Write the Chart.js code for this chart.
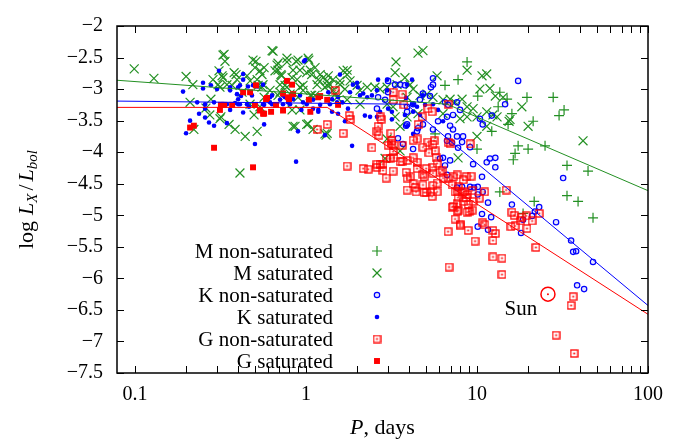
<!DOCTYPE html>
<html>
<head>
<meta charset="utf-8">
<script src="https://cdn.jsdelivr.net/npm/chart.js@4.4.0/dist/chart.umd.min.js"></script>
<style>
  html, body { margin: 0; padding: 0; background: #fff; }
</style>
</head>
<body>
<canvas id="chart" width="680" height="443"></canvas>
<script>
// Data points as [P in days, log Lx/Lbol]
const mNonSaturated = [
  [8.75,-2.57],[7.75,-2.85],[6.50,-2.94],[10.1,-3.11],[13.6,-3.05],[15.0,-3.16],[19.6,-3.13],[13.3,-3.28],
  [21.3,-3.51],[16.0,-3.39],[12.2,-3.67],[15.2,-3.56],[5.69,-3.71],[27.9,-3.13],[32.3,-3.33],[30.2,-3.42],
  [17.4,-3.90],[19.9,-3.95],[25.0,-3.90],[16.7,-4.02],[16.3,-4.12],[10.0,-3.95],[33.6,-4.21],[44.6,-4.30],
  [33.6,-4.69],[39.0,-4.78],[21.6,-4.78],[47.7,-5.04],[18.6,-4.97],[13.6,-4.63]
];
const mSaturated = [
  [0.099,-2.68],[0.129,-2.83],[0.199,-2.80],[0.218,-2.93],[0.21,-3.21],[0.221,-3.64],[0.26,-3.30],[0.278,-3.16],
  [0.286,-2.85],[0.31,-2.71],[0.314,-2.97],[0.332,-2.45],[0.336,-2.56],[0.327,-2.82],[0.345,-2.93],[0.318,-3.44],
  [0.38,-2.74],[0.39,-2.77],[0.355,-3.56],[0.385,-3.64],[0.441,-3.75],[0.51,-2.56],[0.503,-2.66],[0.538,-2.71],
  [0.569,-2.66],[0.518,-3.67],[0.497,-3.41],[0.471,-3.24],[0.538,-3.28],[0.569,-3.13],[0.553,-2.97],[0.471,-2.87],
  [0.423,-3.05],[0.411,-4.33],[0.633,-2.39],[0.677,-2.62],[0.774,-2.51],[0.84,-3.59],[1.01,-2.74],[1.01,-3.56],
  [1.33,-3.70],[1.74,-2.70],[0.642,-2.40],[0.686,-2.59],[0.659,-2.71],[0.714,-2.77],[0.774,-2.57],[0.875,-2.56],
  [0.84,-2.70],[0.829,-2.82],[1.04,-2.54],[1.06,-2.70],[1.08,-2.77],[1.18,-2.85],[1.26,-2.82],[1.33,-2.87],
  [1.38,-2.93],[1.29,-2.97],[0.961,-3.02],[0.922,-2.97],[0.774,-2.97],[0.705,-2.93],[0.561,-2.93],[0.616,-3.02],
  [0.686,-3.10],[0.807,-3.08],[0.898,-3.13],[1.06,-3.10],[1.13,-3.10],[1.44,-3.02],[1.65,-2.71],[1.58,-2.87],
  [1.81,-2.87],[1.99,-2.94],[2.07,-3.02],[2.28,-2.97],[2.53,-2.97],[2.71,-3.00],[2.98,-2.97],[3.32,-2.74],
  [3.36,-2.57],[3.41,-2.93],[3.90,-3.13],[3.32,-3.44],[3.55,-3.59],[2.98,-3.79],[1.29,-3.71],[1.03,-3.55],
  [0.863,-3.59],[2.07,-3.24],[1.74,-3.17],[1.52,-3.13],[2.98,-3.24],[3.23,-3.28],[4.52,-2.43],[4.83,-2.39],
  [8.75,-2.70],[10.7,-2.79],[11.4,-2.76],[10.4,-3.00],[11.9,-2.99],[12.8,-3.11],[14.2,-3.13],[18.3,-3.28],
  [19.9,-3.59],[15.6,-3.48],[5.84,-2.79],[3.79,-2.82],[4.06,-2.93],[4.23,-3.00],[4.64,-3.10],[5.10,-3.08],
  [5.53,-3.13],[6.33,-3.17],[6.96,-3.16],[7.44,-3.21],[8.18,-3.16],[8.75,-3.28],[9.49,-3.31],[10.0,-3.44],
  [8.75,-3.44],[7.96,-3.47],[11.4,-3.36],[13.1,-3.44],[11.4,-3.59],[10.0,-3.75],[3.90,-3.44],[4.52,-3.39],
  [6.33,-3.39],[7.75,-4.09],[41.7,-3.82],[15.4,-3.51],[12.4,-3.41],[1.10,-3.64],[1.31,-3.73],[2.90,-4.10],
  [3.55,-3.98],[0.327,-2.46],[0.323,-2.79],[0.306,-2.93],[0.395,-2.85],[0.37,-2.94],[0.452,-2.79],[0.49,-2.54],
  [0.553,-2.77],[0.518,-2.85],[0.525,-2.94],[0.686,-2.70],[0.72,-2.79],[0.754,-2.94],[0.705,-3.05],[0.898,-2.54],
  [0.922,-2.70],[0.887,-2.85],[0.961,-2.94],[1.03,-2.51],[1.13,-2.66],[1.21,-2.77],[1.16,-2.93],[1.08,-3.10],
  [1.35,-2.79],[1.33,-2.94],[1.44,-2.85],[1.58,-2.93],[1.69,-3.00],[0.274,-3.41],[0.314,-3.47],[1.74,-2.77],
  [1.48,-3.08],[0.829,-3.33],[0.922,-3.33]
];
const kNonSaturated = [
  [17.4,-2.87],[14.6,-3.24],[5.53,-2.83],[5.53,-2.93],[5.38,-2.97],[4.83,-3.07],[5.31,-3.11],[4.64,-3.17],
  [4.23,-3.24],[3.90,-3.28],[3.55,-2.93],[3.32,-2.93],[3.02,-2.87],[2.90,-3.17],[6.50,-3.21],[6.77,-3.25],
  [7.64,-3.21],[6.68,-3.44],[5.92,-3.51],[5.53,-3.64],[4.83,-3.56],[4.52,-3.62],[3.90,-3.56],[6.96,-3.58],
  [7.24,-3.64],[8.29,-3.75],[6.77,-3.75],[6.68,-3.82],[7.15,-3.85],[8.18,-3.84],[7.75,-3.93],[9.11,-3.92],
  [11.4,-4.16],[12.8,-4.09],[11.9,-4.10],[12.8,-4.24],[9.49,-4.19],[10.7,-4.39],[10.1,-4.55],[10.8,-4.63],
  [9.11,-4.55],[8.18,-4.55],[7.64,-4.56],[6.96,-4.13],[6.08,-4.10],[6.50,-4.21],[6.68,-4.36],[6.33,-4.09],
  [4.23,-3.95],[4.46,-3.67],[3.69,-3.87],[3.45,-3.78],[31.9,-4.41],[16.0,-4.83],[9.61,-4.56],[10.1,-4.67],
  [11.6,-4.80],[18.6,-5.07],[21.8,-4.94],[23.1,-4.87],[29.0,-5.11],[35.5,-5.40],[36.5,-5.58],[38.0,-5.57],
  [47.7,-5.74],[38.5,-6.11],[42.3,-6.17],[18.1,-5.28],[21.0,-5.01],[12.1,-5.03],[11.6,-5.23],[10.1,-5.18],
  [10.7,-4.98],[12.2,-3.42],[10.8,-3.56],[10.4,-3.47],[7.96,-3.33],[7.24,-3.41],[7.64,-3.75],[2.64,-3.13],
  [3.02,-3.05],[3.79,-2.94],[3.90,-3.36],[3.85,-3.58],[2.60,-3.31]
];
const kSaturated = [
  [0.191,-3.04],[0.25,-2.90],[0.25,-2.99],[0.278,-2.94],[0.302,-3.00],[0.31,-2.71],[0.36,-2.97],[0.401,-2.97],
  [0.429,-2.76],[0.429,-2.85],[0.458,-2.96],[0.395,-3.08],[0.417,-3.11],[0.401,-3.16],[0.483,-3.10],[0.518,-2.96],
  [0.231,-3.21],[0.29,-3.21],[0.345,-3.24],[0.385,-3.22],[0.411,-3.24],[0.237,-3.39],[0.257,-3.45],[0.271,-3.53],
  [0.29,-3.58],[0.21,-3.50],[0.199,-3.70],[0.345,-3.54],[0.36,-3.33],[0.429,-3.37],[0.569,-3.56],[0.503,-3.87],
  [0.569,-3.25],[0.464,-3.28],[0.875,-4.15],[0.974,-2.56],[0.898,-3.67],[1.58,-2.77],[1.86,-3.90],[2.64,-2.85],
  [2.98,-2.85],[2.01,-2.97],[2.16,-3.07],[2.60,-3.44],[3.18,-3.48],[0.561,-2.93],[0.616,-3.13],[0.705,-3.17],
  [0.754,-3.13],[0.84,-3.16],[0.922,-3.10],[0.961,-3.21],[1.10,-3.17],[1.35,-3.05],[1.42,-3.16],[1.54,-3.13],
  [1.63,-3.21],[1.81,-3.05],[1.88,-2.93],[1.99,-2.90],[2.07,-3.10],[2.28,-3.13],[2.43,-3.10],[2.60,-3.02],
  [2.98,-3.02],[3.02,-3.31],[3.18,-3.36],[2.71,-3.36],[2.37,-3.44],[2.21,-3.42],[1.76,-3.31],[1.69,-3.51],
  [1.54,-3.39],[1.42,-3.36],[1.38,-3.24],[1.21,-3.25],[1.10,-3.31],[1.18,-3.33],[1.01,-3.24],[0.785,-3.21],
  [0.616,-3.21],[3.85,-3.14],[4.17,-2.85],[3.90,-2.93],[4.23,-3.24],[4.46,-3.28],[4.97,-3.25],[5.53,-3.24],
  [5.92,-3.33],[6.33,-3.51],[3.90,-3.59],[4.23,-3.36],[4.64,-3.41],[3.79,-3.41],[4.23,-3.71],[4.83,-3.10],
  [1.29,-3.73],[0.411,-2.94],[0.49,-2.94],[0.633,-3.10],[0.734,-3.10],[0.36,-3.02],[0.401,-3.24],[0.452,-3.24],
  [0.561,-3.24],[0.633,-3.24],[0.734,-3.24],[0.807,-3.24],[0.99,-2.54],[0.257,-3.24],[0.257,-3.31],[1.18,-3.36],
  [0.94,-3.33],[1.52,-3.21]
];
const gNonSaturated = [
  [1.65,-3.70],[2.60,-3.67],[2.67,-3.73],[3.14,-3.70],[2.43,-3.93],[3.02,-3.89],[3.27,-3.89],[3.65,-3.89],
  [3.23,-3.99],[3.27,-4.09],[3.10,-4.10],[2.94,-4.10],[2.82,-4.19],[2.71,-4.19],[2.60,-4.19],[2.82,-4.29],
  [2.94,-4.41],[1.74,-4.22],[2.16,-4.26],[2.31,-4.27],[3.23,-4.30],[3.85,-4.32],[4.06,-4.39],[3.90,-4.60],
  [4.34,-4.56],[4.40,-4.63],[4.23,-4.50],[5.04,-4.64],[5.46,-4.70],[5.38,-4.63],[5.84,-4.63],[4.83,-4.52],
  [4.90,-4.39],[5.04,-4.26],[5.46,-4.24],[5.84,-4.18],[4.46,-4.16],[4.23,-4.09],[3.90,-4.13],[3.65,-4.15],
  [4.46,-4.26],[4.83,-4.35],[5.53,-4.33],[6.08,-4.32],[6.25,-4.29],[6.33,-4.41],[6.77,-4.41],[7.24,-4.39],
  [7.64,-4.36],[7.15,-4.52],[7.75,-4.55],[8.29,-4.44],[8.63,-4.39],[9.23,-4.38],[7.64,-4.63],[8.18,-4.64],
  [8.75,-4.67],[8.87,-4.83],[9.49,-4.78],[8.29,-4.78],[7.64,-4.81],[7.24,-4.86],[7.75,-4.92],[8.75,-4.95],
  [9.36,-4.92],[7.64,-4.94],[7.44,-5.06],[7.96,-5.14],[8.87,-5.24],[9.74,-5.41],[6.77,-5.26],[5.24,-4.01],
  [5.53,-3.88],[5.17,-3.84],[5.61,-3.82],[5.69,-3.98],[5.76,-4.09],[4.83,-3.92],[4.23,-3.81],[4.46,-3.79],
  [3.18,-3.87],[3.55,-4.15],[3.90,-4.41],[4.90,-4.64],[5.53,-4.53],[5.84,-4.49],[7.44,-4.63],[8.40,-4.63],
  [9.36,-4.61],[11.1,-4.63],[14.8,-4.60],[7.75,-4.72],[8.63,-4.72],[10.3,-4.73],[7.15,-4.87],[8.99,-4.94],
  [7.96,-5.17],[10.8,-5.12],[11.1,-5.15],[12.4,-5.24],[12.8,-5.29],[12.4,-5.40],[12.4,-5.66],[14.0,-5.68],
  [14.0,-5.94],[6.86,-5.82],[16.0,-4.95],[16.5,-5.00],[18.3,-5.03],[19.4,-5.01],[17.9,-5.09],[21.0,-5.09],
  [23.1,-4.97],[16.7,-5.17],[15.8,-5.18],[19.6,-5.21],[22.1,-5.51],[36.5,-6.29],[35.5,-6.43],[29.0,-6.90],
  [37.0,-7.19],[1.48,-3.02],[1.33,-3.56],[1.16,-3.64],[1.79,-3.42],[1.81,-3.48],[2.75,-3.48],[2.64,-3.59],
  [3.23,-3.05],[3.23,-3.17],[3.65,-3.08],[3.74,-3.25],[2.71,-3.44],[3.18,-3.82],[5.17,-3.31],[5.46,-3.36],
  [6.77,-3.24],[4.77,-3.44],[4.52,-3.56],[6.77,-3.84],[6.96,-3.87],[9.11,-3.87],[2.60,-4.24]
];
const gSaturated = [
  [0.21,-3.61],[0.221,-3.58],[0.314,-3.33],[0.318,-3.25],[0.332,-3.25],[0.37,-3.25],[0.429,-3.05],[0.471,-3.05],
  [0.51,-2.94],[0.503,-3.25],[0.538,-3.34],[0.569,-3.39],[0.584,-3.16],[0.29,-3.93],[0.49,-4.24],[0.592,-3.14],
  [0.668,-3.25],[0.734,-3.07],[0.774,-2.87],[0.829,-2.93],[0.796,-3.16],[1.04,-3.17],[1.06,-3.36],[1.18,-3.13],
  [1.33,-3.17],[1.54,-3.25],[0.734,-3.34],[0.625,-3.36],[0.561,-3.39],[0.84,-3.08],[0.785,-3.13],[1.21,-3.11]
];
const sun = [[26.0, -6.25]];

// Fitted relations (end points and break points)
const fitM = [[0.0785,-2.86],[6.7,-3.24],[100,-4.61]];
const fitK = [[0.0785,-3.19],[3.85,-3.24],[100,-6.43]];
const fitG = [[0.0785,-3.29],[1.33,-3.29],[100,-6.57]];

// Axis ticks
const xTicks = [0.1,0.2,0.3,0.4,0.5,0.6,0.7,0.8,0.9,1,2,3,4,5,6,7,8,9,10,20,30,40,50,60,70,80,90,100];
const xLabels = [0.1, 1, 10, 100];
const yTicks = [-7.5,-7,-6.5,-6,-5.5,-5,-4.5,-4,-3.5,-3,-2.5,-2];

const SERIF = '"Liberation Serif", "DejaVu Serif", serif';
const GREEN = '#239023';
const BLUE = '#0000ff';
const RED = '#ff0000';

const toXY = arr => arr.map(([x, y]) => ({ x: x, y: y }));

// open square with a dot in the middle
function boxDot(color) {
  const c = document.createElement('canvas');
  c.width = 9; c.height = 9;
  const g = c.getContext('2d');
  g.strokeStyle = color;
  g.lineWidth = 1.3;
  g.strokeRect(1, 1, 7, 7);
  g.fillStyle = color;
  g.fillRect(3.6, 3.6, 1.8, 1.8);
  return c;
}

const datasets = [
  { label: 'fitM', data: toXY(fitM), showLine: true, borderColor: GREEN, borderWidth: 1, pointRadius: 0, order: 0 },
  { label: 'fitK', data: toXY(fitK), showLine: true, borderColor: BLUE, borderWidth: 1, pointRadius: 0, order: 0 },
  { label: 'fitG', data: toXY(fitG), showLine: true, borderColor: RED, borderWidth: 1, pointRadius: 0, order: 0 },
  { label: 'M non-saturated', data: toXY(mNonSaturated), pointStyle: 'cross', pointRadius: 5,
    borderColor: GREEN, backgroundColor: GREEN, borderWidth: 1.2, order: 6 },
  { label: 'M saturated', data: toXY(mSaturated), pointStyle: 'crossRot', pointRadius: 6.3,
    borderColor: GREEN, backgroundColor: GREEN, borderWidth: 1.2, order: 5 },
  { label: 'K non-saturated', data: toXY(kNonSaturated), pointStyle: 'circle', pointRadius: 2.7,
    borderColor: BLUE, backgroundColor: 'rgba(0,0,255,0.1)', borderWidth: 1.2, order: 4 },
  { label: 'K saturated', data: toXY(kSaturated), pointStyle: 'circle', pointRadius: 2.3,
    borderColor: BLUE, backgroundColor: BLUE, borderWidth: 0, order: 3 },
  { label: 'G non-saturated', data: toXY(gNonSaturated), pointStyle: boxDot(RED), pointRadius: 4.5,
    borderColor: RED, backgroundColor: RED, borderWidth: 0, order: 2 },
  { label: 'G saturated', data: toXY(gSaturated), pointStyle: 'rect', pointRadius: 4.2,
    borderColor: RED, backgroundColor: RED, borderWidth: 0, order: 1 },
  { label: 'Sun', data: toXY(sun), pointStyle: 'circle', pointRadius: 7,
    borderColor: RED, backgroundColor: 'rgba(0,0,0,0)', borderWidth: 1.5, order: -1 },
  { label: 'Sun dot', data: toXY(sun), pointStyle: 'circle', pointRadius: 1,
    borderColor: RED, backgroundColor: RED, borderWidth: 0, order: -1 }
];

const legendItems = [3, 4, 5, 6, 7, 8];

function drawRich(ctx, parts, x, y, rotate) {
  ctx.save();
  ctx.translate(x, y);
  if (rotate) ctx.rotate(-Math.PI / 2);
  ctx.textBaseline = 'alphabetic';
  ctx.textAlign = 'left';
  ctx.fillStyle = '#000';
  let total = 0;
  parts.forEach(p => {
    ctx.font = p.font;
    p.w = ctx.measureText(p.text).width + (p.pre || 0) + (p.post || 0);
    total += p.w;
  });
  let cx = -total / 2;
  parts.forEach(p => {
    ctx.font = p.font;
    ctx.fillText(p.text, cx + (p.pre || 0), p.dy || 0);
    cx += p.w;
  });
  ctx.restore();
}

const decorations = {
  id: 'decorations',
  afterDatasetsDraw(chart) {
    const { ctx, chartArea: a, scales: { x, y } } = chart;
    ctx.save();
    // inward ticks on all four sides
    ctx.strokeStyle = '#000';
    ctx.lineWidth = 1;
    ctx.beginPath();
    xTicks.forEach(v => {
      const px = Math.round(x.getPixelForValue(v)) + 0.5;
      ctx.moveTo(px, a.bottom); ctx.lineTo(px, a.bottom - 7);
      ctx.moveTo(px, a.top); ctx.lineTo(px, a.top + 7);
    });
    yTicks.forEach(v => {
      const py = Math.round(y.getPixelForValue(v)) + 0.5;
      ctx.moveTo(a.left, py); ctx.lineTo(a.left + 7, py);
      ctx.moveTo(a.right, py); ctx.lineTo(a.right - 7, py);
    });
    ctx.stroke();
    ctx.lineWidth = 1.5;
    ctx.strokeRect(a.left, a.top, a.right - a.left, a.bottom - a.top);

    // legend, text right aligned with the marker to its right
    ctx.font = '21px ' + SERIF;
    ctx.textAlign = 'right';
    ctx.textBaseline = 'middle';
    legendItems.forEach((di, i) => {
      const ds = chart.data.datasets[di];
      const ty = a.top + 225 + i * 22;
      ctx.fillStyle = '#000';
      ctx.fillText(ds.label, a.left + 216, ty + 1);
      ctx.save();
      ctx.strokeStyle = ds.borderColor;
      ctx.fillStyle = ds.backgroundColor;
      ctx.lineWidth = ds.borderWidth;
      Chart.helpers.drawPoint(ctx, {
        pointStyle: ds.pointStyle, radius: ds.pointRadius, borderWidth: ds.borderWidth, rotation: 0
      }, a.left + 260, ty);
      ctx.restore();
    });

    // Sun label
    ctx.textAlign = 'center';
    ctx.fillStyle = '#000';
    ctx.fillText('Sun', x.getPixelForValue(sun[0][0]) - 27, y.getPixelForValue(sun[0][1]) + 15);

    // axis titles
    const roman = '22px ' + SERIF;
    const ital = 'italic 22px ' + SERIF;
    const sub = 'italic 15px ' + SERIF;
    drawRich(ctx, [
      { text: 'log', font: roman, post: 6 },
      { text: 'L', font: ital },
      { text: 'X', font: sub, dy: 4, post: 1 },
      { text: '/', font: roman, pre: 2, post: 3 },
      { text: 'L', font: ital },
      { text: 'bol', font: sub, dy: 4 }
    ], 33, (a.top + a.bottom) / 2, true);
    drawRich(ctx, [
      { text: 'P', font: ital },
      { text: ', days', font: roman }
    ], (a.left + a.right) / 2, 434, false);
    ctx.restore();
  }
};

new Chart(document.getElementById('chart').getContext('2d'), {
  type: 'scatter',
  data: { datasets: datasets },
  options: {
    responsive: false,
    animation: false,
    layout: { padding: { top: 17, right: 32, left: 0, bottom: 0 } },
    plugins: { legend: { display: false }, tooltip: { enabled: false } },
    scales: {
      x: {
        type: 'logarithmic',
        min: 0.0785,
        max: 100,
        grid: { display: false, drawTicks: false },
        border: { display: false },
        afterBuildTicks: s => { s.ticks = xTicks.map(v => ({ value: v })); },
        afterFit: s => { s.height = 70; },
        ticks: {
          autoSkip: false, maxRotation: 0, padding: 10, color: '#000',
          font: { family: SERIF, size: 20 },
          callback: v => (xLabels.includes(v) ? String(v) : '')
        }
      },
      y: {
        type: 'linear',
        min: -7.5,
        max: -2,
        grid: { display: false, drawTicks: false },
        border: { display: false },
        afterBuildTicks: s => { s.ticks = yTicks.map(v => ({ value: v })); },
        afterFit: s => { s.width = 117; },
        ticks: {
          padding: 14, color: '#000',
          font: { family: SERIF, size: 20 },
          callback: v => String(v).replace('-', '\u2212')
        }
      }
    }
  },
  plugins: [decorations]
});
</script>
</body>
</html>
